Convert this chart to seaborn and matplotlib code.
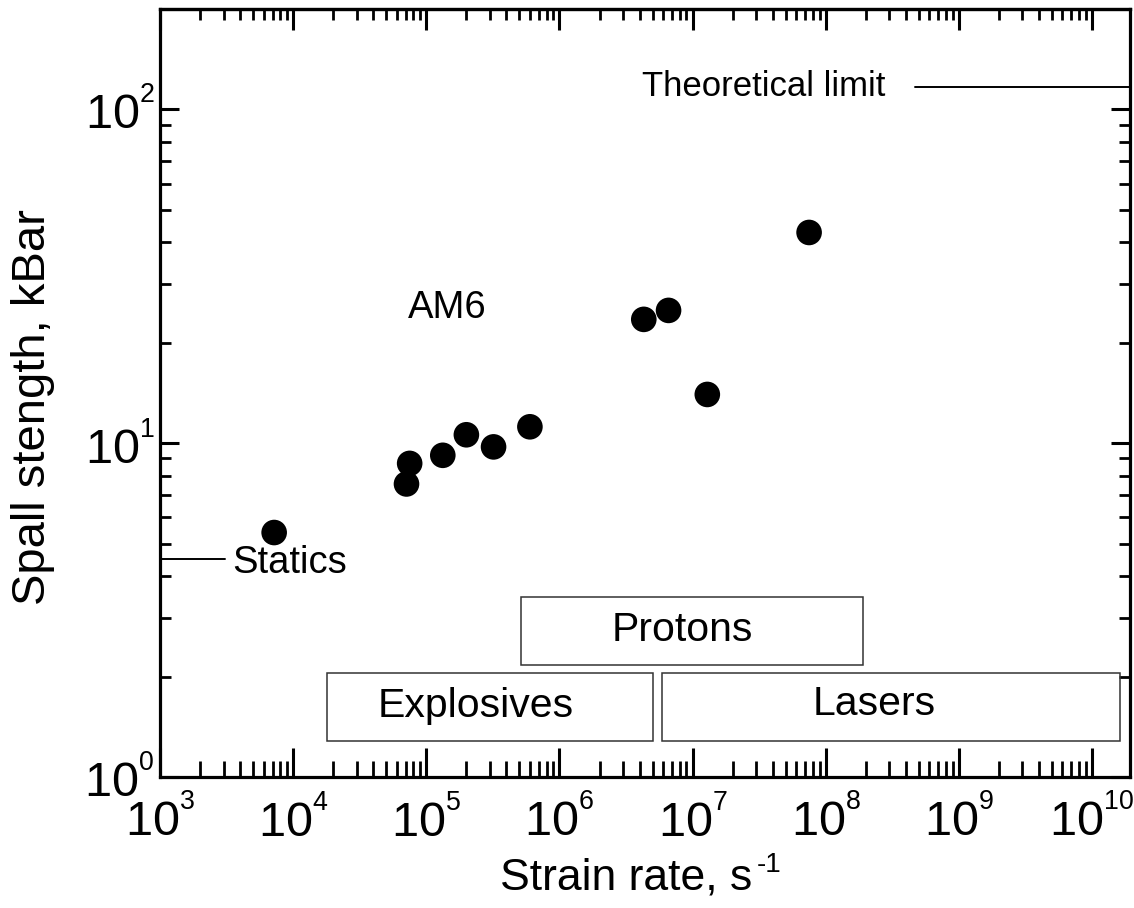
import numpy as np
import pandas as pd
import matplotlib
matplotlib.use("Agg")
import matplotlib.pyplot as plt
import matplotlib.ticker as mticker
from matplotlib.patches import Rectangle
import seaborn as sns

try:
    import matplotlib._mathtext as _mt
    _mt.SHRINK_FACTOR = 0.55          # smaller exponent digits
    _mt.FontConstantsBase.sup1 = 1.0  # and raised a little higher
except Exception:
    pass

# Spall strength of AM6 versus strain rate
strain_rate = [7.2e3, 7.1e4, 7.5e4, 1.33e5, 2.0e5, 3.2e5, 6.0e5, 4.3e6, 6.6e6, 1.29e7, 7.5e7]
spall_strength = [5.4, 7.55, 8.7, 9.2, 10.6, 9.75, 11.2, 23.5, 25.0, 14.0, 42.8]

# Loading-method ranges
method_names = ["Explosives", "Lasers", "Protons"]
method_xmin = [1.79e4, 5.9e6, 5.1e5]
method_xmax = [5.08e6, 1.62e10, 1.91e8]
method_ymin = [1.28, 1.28, 2.16]
method_ymax = [2.05, 2.05, 3.46]
method_text_x = [2.35e5, 2.3e8, 8.4e6]
method_text_y = [1.63, 1.66, 2.75]

statics_level = 4.5
theoretical_limit = 117.0

x_limits = (1e3, 1.93e10)
y_limits = (1.0, 200.0)
x_decades = list(range(3, 11))
y_decades = [0, 1, 2]

sns.set_theme(style="ticks")
plt.rcParams["font.family"] = ["Liberation Sans", "DejaVu Sans"]
plt.rcParams["mathtext.fontset"] = "custom"
plt.rcParams["mathtext.rm"] = "Liberation Sans"
plt.rcParams["mathtext.it"] = "Liberation Sans:italic"
plt.rcParams["text.color"] = "black"
plt.rcParams["axes.labelcolor"] = "black"
plt.rcParams["xtick.color"] = "black"
plt.rcParams["ytick.color"] = "black"
plt.rcParams["axes.edgecolor"] = "black"

fig = plt.figure(figsize=(11.34, 9.08), dpi=100)
ax = fig.add_axes([0.1411, 0.1443, 0.9965 - 0.1411, 0.9901 - 0.1443])
ax.set_xscale("log")
ax.set_yscale("log")
ax.set_xlim(*x_limits)
ax.set_ylim(*y_limits)

df = pd.DataFrame({"rate": strain_rate, "strength": spall_strength})
sns.scatterplot(data=df, x="rate", y="strength", ax=ax, s=340, color="black",
                edgecolor="none", marker="o", zorder=5)

# method range boxes
for name, x0, x1, y0, y1, tx, ty in zip(method_names, method_xmin, method_xmax,
                                         method_ymin, method_ymax,
                                         method_text_x, method_text_y):
    ax.add_patch(Rectangle((x0, y0), x1 - x0, y1 - y0, fill=False,
                           edgecolor="#333333", linewidth=1.1, zorder=3))
    ax.text(tx, ty, name, ha="center", va="center", fontsize=29.5, color="black")

# annotations
ax.plot([x_limits[0], 3.07e3], [statics_level, statics_level], color="black", lw=1.4)
ax.text(3.5e3, 4.38, "Statics", ha="left", va="center", fontsize=27.5)
ax.plot([4.7e8, x_limits[1]], [theoretical_limit, theoretical_limit], color="black", lw=1.4)
ax.text(4.2e6, theoretical_limit, "Theoretical limit", ha="left", va="center", fontsize=25)
ax.text(7.25e4, 25.5, "AM6", ha="left", va="center", fontsize=27.5)

# axes styling
for sp in ax.spines.values():
    sp.set_linewidth(2.3)
    sp.set_color("black")

def power_label(v, pos):
    if v <= 0:
        return ""
    e = int(round(np.log10(v)))
    return r"$\mathregular{10^{%d}}$" % e

ax.xaxis.set_major_locator(mticker.FixedLocator([10.0 ** d for d in x_decades]))
ax.yaxis.set_major_locator(mticker.FixedLocator([10.0 ** d for d in y_decades]))
ax.xaxis.set_minor_locator(mticker.LogLocator(base=10, subs=np.arange(2, 10), numticks=100))
ax.yaxis.set_minor_locator(mticker.LogLocator(base=10, subs=np.arange(2, 10), numticks=100))
ax.xaxis.set_major_formatter(mticker.FuncFormatter(power_label))
ax.yaxis.set_major_formatter(mticker.FuncFormatter(power_label))
ax.xaxis.set_minor_formatter(mticker.NullFormatter())
ax.yaxis.set_minor_formatter(mticker.NullFormatter())

ax.tick_params(axis="x", which="major", direction="in", length=21, width=2.2,
               labelsize=35, pad=14, bottom=True, top=False)
ax.tick_params(axis="x", which="minor", direction="in", length=11.5, width=2.0,
               bottom=True, top=False)
ax.tick_params(axis="y", which="major", direction="in", length=14, width=2.2,
               labelsize=35, pad=4, left=True, right=True)
ax.tick_params(axis="y", which="minor", direction="in", length=8, width=2.0,
               left=True, right=True)

top = ax.secondary_xaxis("top")
top.xaxis.set_major_locator(mticker.FixedLocator([10.0 ** d for d in x_decades]))
top.xaxis.set_minor_locator(mticker.LogLocator(base=10, subs=np.arange(2, 10), numticks=100))
top.xaxis.set_major_formatter(mticker.NullFormatter())
top.xaxis.set_minor_formatter(mticker.NullFormatter())
top.tick_params(which="major", direction="in", length=15, width=2.2)
top.tick_params(which="minor", direction="in", length=8, width=2.0)
top.spines["top"].set_linewidth(2.3)

ax.set_xlabel("Strain rate, s", fontsize=32)
ax.xaxis.set_label_coords(0.481, -0.131)
ax.xaxis.label.set_va("center")
ax.set_ylabel("Spall stength, kBar", fontsize=34)
ax.yaxis.set_label_coords(-0.131, 0.482)
ax.yaxis.label.set_va("center")

# exponent of the unit, written with a plain hyphen
fig.canvas.draw()
bb = ax.xaxis.label.get_window_extent()
fig.text((bb.x1 + 4) / fig.bbox.width, (bb.y1 + 5) / fig.bbox.height, "-1",
         fontsize=20, ha="left", va="top", color="black")

fig.savefig("out.png", dpi=100, facecolor="white")
